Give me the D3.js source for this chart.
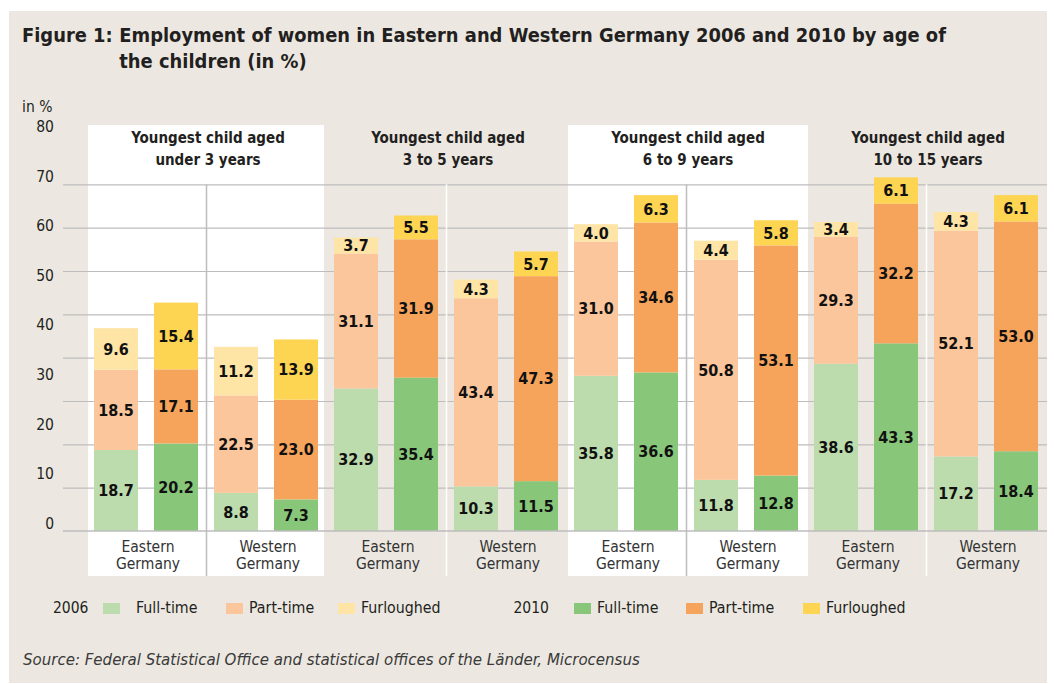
<!DOCTYPE html>
<html>
<head>
<meta charset="utf-8">
<script src="https://cdn.jsdelivr.net/npm/d3@7"></script>
<style>
body { margin: 0; background: #fff; }
svg text { font-family: 'DejaVu Sans Condensed', 'DejaVu Sans', sans-serif; font-stretch: condensed; fill: #231f20; }
</style>
</head>
<body>
<div id="chart"></div>
<script>
// --- data
var ageGroups = [
	['Youngest child aged', 'under 3 years'],
	['Youngest child aged', '3 to 5 years'],
	['Youngest child aged', '6 to 9 years'],
	['Youngest child aged', '10 to 15 years']
]
var regions = [['Eastern', 'Germany'], ['Western', 'Germany']]
var years = ['2006', '2010']
var seriesNames = ['Full-time', 'Part-time', 'Furloughed']

// order: under 3 East, under 3 West, 3-5 East, 3-5 West, 6-9 East, ...
var fullTime2006 = [18.7, 8.8, 32.9, 10.3, 35.8, 11.8, 38.6, 17.2]
var fullTime2010 = [20.2, 7.3, 35.4, 11.5, 36.6, 12.8, 43.3, 18.4]
var partTime2006 = [18.5, 22.5, 31.1, 43.4, 31.0, 50.8, 29.3, 52.1]
var partTime2010 = [17.1, 23.0, 31.9, 47.3, 34.6, 53.1, 32.2, 53.0]
var furloughed2006 = [9.6, 11.2, 3.7, 4.3, 4.0, 4.4, 3.4, 4.3]
var furloughed2010 = [15.4, 13.9, 5.5, 5.7, 6.3, 5.8, 6.1, 6.1]

var yTicks = [0, 10, 20, 30, 40, 50, 60, 70, 80]

// --- colours
var colors = {
	'2006': ['#bddcae', '#fbc69b', '#fee5a6'],
	'2010': ['#88c77a', '#f6a45c', '#fed453']
}
var beige = '#ece8e1'
var gridColor = '#bdbdbd'

var valuesByYear = {
	'2006': [fullTime2006, partTime2006, furloughed2006],
	'2010': [fullTime2010, partTime2010, furloughed2010]
}

// Build stacked segments
var segments = []
d3.range(ageGroups.length * regions.length).forEach(function(i){
	years.forEach(function(yr){
		var base = 0
		valuesByYear[yr].forEach(function(vals, s){
			segments.push({sub: i, year: yr, serie: s, y0: base, y1: base + vals[i], value: vals[i]})
			base += vals[i]
		})
	})
})

var width = 1054
var height = 684

var svg = d3.select('#chart').append('svg')
	.attr('width', width)
	.attr('height', height)

var y = d3.scaleLinear().domain([0, 80]).range([531, 184.3])
// the tick labels in the figure sit on their own spacing
var yLabel = d3.scaleLinear().domain([0, 80]).range([523.3, 126.7])

var xSub = d3.scaleBand()
	.domain(d3.range(ageGroups.length * regions.length))
	.range([88, 1048])
var xYear = d3.scaleBand()
	.domain(years)
	.range([6, 110])
	.paddingInner(16 / 60)
var xGroup = d3.scaleBand()
	.domain(d3.range(ageGroups.length))
	.range([88, 1048])

var gridLeft = 63
var gridRight = 1047
var panelTop = 125
var panelBottom = 576

// Background
svg.append('rect')
	.attr('x', 9)
	.attr('y', 11)
	.attr('width', 1038)
	.attr('height', 672)
	.attr('fill', beige)

// White panels for 1st and 3rd age group
svg.selectAll('rect.panel')
		.data(d3.range(ageGroups.length).filter(function(g){ return g % 2 == 0 }))
	.enter().append('rect')
		.attr('class', 'panel')
		.attr('x', function(g){ return xGroup(g) })
		.attr('y', panelTop)
		.attr('width', function(g){ return xGroup.bandwidth() - (g == 0 ? 4 : 0) })
		.attr('height', panelBottom - panelTop)
		.attr('fill', '#fff')

// Horizontal grid lines
var grid = svg.append('g')
	.attr('transform', 'translate(' + gridLeft + ',0)')
	.call(d3.axisLeft(y).tickValues(yTicks.slice(1)).tickSize(-(gridRight - gridLeft)).tickFormat(''))
grid.select('.domain').remove()
grid.selectAll('line').attr('stroke', gridColor).attr('stroke-width', 1.2)

// East / West separators
svg.selectAll('line.sep')
		.data(d3.range(ageGroups.length))
	.enter().append('line')
		.attr('class', 'sep')
		.attr('x1', function(g){ return xSub(g * 2 + 1) - 1.5 })
		.attr('x2', function(g){ return xSub(g * 2 + 1) - 1.5 })
		.attr('y1', y(80))
		.attr('y2', panelBottom)
		.attr('stroke', function(g){ return g % 2 == 0 ? gridColor : '#fff' })
		.attr('stroke-width', 1.5)

// Bars
svg.selectAll('rect.seg')
		.data(segments)
	.enter().append('rect')
		.attr('class', 'seg')
		.attr('x', function(d){ return xSub(d.sub) + xYear(d.year) })
		.attr('y', function(d){ return y(d.y1) })
		.attr('width', xYear.bandwidth())
		.attr('height', function(d){ return y(d.y0) - y(d.y1) })
		.attr('fill', function(d){ return colors[d.year][d.serie] })

// Value labels
svg.selectAll('text.val')
		.data(segments)
	.enter().append('text')
		.attr('class', 'val')
		.attr('x', function(d){ return xSub(d.sub) + xYear(d.year) + xYear.bandwidth() / 2 })
		.attr('y', function(d){ return y((d.y0 + d.y1) / 2) })
		.attr('dy', '0.36em')
		.style('text-anchor', 'middle')
		.style('font-weight', 'bold')
		.style('font-size', '16px')
		.style('fill', '#111')
		.text(function(d){ return d.value.toFixed(1) })

// Baseline
svg.append('line')
	.attr('x1', gridLeft)
	.attr('x2', gridRight)
	.attr('y1', y(0))
	.attr('y2', y(0))
	.attr('stroke', gridColor)
	.attr('stroke-width', 1.5)

// Y tick labels
var yAxis = svg.append('g')
	.attr('transform', 'translate(54,0)')
	.call(d3.axisLeft(yLabel).tickValues(yTicks).tickSize(0).tickPadding(0))
yAxis.select('.domain').remove()
yAxis.selectAll('text')
	.style('font-size', '15.5px')
	.style('font-family', null)
	.attr('fill', null)

svg.append('text')
	.attr('x', 22)
	.attr('y', 111.5)
	.style('font-size', '15.5px')
	.text('in %')

// Age group headers
var head = svg.selectAll('text.head')
		.data(ageGroups)
	.enter().append('text')
		.attr('class', 'head')
		.attr('x', function(d, i){ return xGroup(i) + xGroup.bandwidth() / 2 })
		.attr('y', 142.5)
		.style('text-anchor', 'middle')
		.style('font-weight', 'bold')
		.style('font-size', '15px')
head.append('tspan')
	.attr('x', function(d, i){ return xGroup(i) + xGroup.bandwidth() / 2 })
	.text(function(d){ return d[0] })
head.append('tspan')
	.attr('x', function(d, i){ return xGroup(i) + xGroup.bandwidth() / 2 })
	.attr('dy', 22.5)
	.text(function(d){ return d[1] })

// Region labels
var reg = svg.selectAll('text.reg')
		.data(d3.range(ageGroups.length * regions.length))
	.enter().append('text')
		.attr('class', 'reg')
		.attr('y', 551.5)
		.style('text-anchor', 'middle')
		.style('font-size', '15.5px')
		.style('fill', '#333')
reg.append('tspan')
	.attr('x', function(i){ return xSub(i) + xSub.bandwidth() / 2 })
	.text(function(i){ return regions[i % 2][0] })
reg.append('tspan')
	.attr('x', function(i){ return xSub(i) + xSub.bandwidth() / 2 })
	.attr('dy', 17.8)
	.text(function(i){ return regions[i % 2][1] })

// Legend
var legendX = {'2006': 53, '2010': 513.5}
var swatchX = {'2006': [103, 226, 338], '2010': [574, 686, 803]}
years.forEach(function(yr){
	var lg = svg.append('g')
	lg.append('text')
		.attr('x', legendX[yr])
		.attr('y', 613)
		.style('font-size', '15.5px')
		.text(yr)
	seriesNames.forEach(function(name, s){
		lg.append('rect')
			.attr('x', swatchX[yr][s])
			.attr('y', 603)
			.attr('width', 17)
			.attr('height', 11)
			.attr('fill', colors[yr][s])
		lg.append('text')
			.attr('x', swatchX[yr][s] + (yr == '2006' && s == 0 ? 33 : 23))
			.attr('y', 613)
			.style('font-size', '15.8px')
			.text(name)
	})
})

// Title
svg.append('text')
	.attr('x', 22)
	.attr('y', 41.7)
	.style('font-weight', 'bold')
	.style('font-size', '19.9px')
	.text('Figure 1:')
var title = svg.append('text')
	.attr('x', 119.3)
	.attr('y', 41.7)
	.style('font-weight', 'bold')
	.style('font-size', '19.9px')
title.append('tspan')
	.text('Employment of women in Eastern and Western Germany 2006 and 2010 by age of')
title.append('tspan')
	.attr('x', 119.3)
	.attr('dy', 26.6)
	.text('the children (in %)')

// Source
svg.append('text')
	.attr('x', 23)
	.attr('y', 665)
	.style('font-style', 'italic')
	.style('font-size', '16.7px')
	.style('fill', '#3a3a3a')
	.text('Source: Federal Statistical Office and statistical offices of the Länder, Microcensus')
</script>
</body>
</html>
